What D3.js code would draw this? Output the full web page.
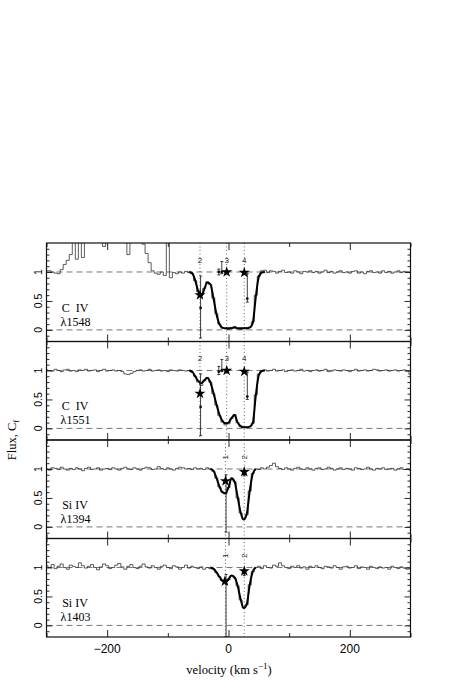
<!DOCTYPE html>
<html>
<head>
<meta charset="utf-8">
<script src="https://cdn.jsdelivr.net/npm/d3@7"></script>
<style>
  body { margin: 0; background: #fff; }
  svg { display: block; }
</style>
</head>
<body>
<svg id="chart" width="457" height="684"></svg>
<script>
// velocity grid of the spectra (km/s, 5 km/s bins)
var velocity = d3.range(-300, 301, 5);

// observed normalized flux, one array per line (121 bins each)
var fluxC1548 = [
  1.02, 1.02, 1.00, 0.98, 0.97, 1.04, 1.13, 1.20, 1.30, 1.60,
  1.22, 1.60, 1.25, 1.60, 1.60, 1.60, 1.60, 1.60, 1.60, 1.44,
  1.60, 1.60, 1.60, 1.60, 1.60, 1.60, 1.60, 1.30, 1.60, 1.60,
  1.60, 1.60, 1.48, 1.32, 1.16, 1.02, 0.98, 0.96, 1.00, 0.94,
  1.60, 0.90, 0.99, 0.97, 1.00, 0.98, 1.01, 0.99, 0.97, 0.85,
  0.66, 0.60, 0.72, 0.83, 0.78, 0.55, 0.28, 0.10, 0.03, 0.02,
  0.01, 0.04, 0.06, 0.02, 0.01, 0.03, 0.04, 0.05, 0.14, 0.60,
  0.93, 1.02, 1.03, 0.99, 1.02, 1.01, 0.98, 1.01, 1.03, 0.99,
  1.00, 0.98, 1.02, 1.00, 0.97, 1.01, 1.00, 1.02, 0.99, 1.01,
  0.98, 1.00, 1.03, 0.99, 1.01, 0.98, 1.00, 1.02, 0.99, 1.00,
  0.98, 1.01, 1.02, 0.98, 1.00, 0.97, 1.01, 1.02, 0.99, 1.00,
  0.98, 1.02, 0.99, 1.01, 0.98, 1.00, 1.02, 0.99, 1.01, 1.00,
  0.99
];
var fluxC1551 = [
  1.01, 1.00, 0.99, 1.02, 1.00, 0.98, 1.01, 1.02, 0.99, 1.00,
  0.98, 1.01, 1.00, 1.02, 0.99, 1.00, 1.01, 0.98, 1.00, 1.02,
  0.99, 1.00, 1.01, 0.99, 1.00, 0.98, 0.94, 0.93, 0.95, 0.98,
  1.00, 1.01, 0.99, 1.00, 1.02, 0.99, 1.00, 1.01, 0.99, 1.00,
  0.98, 1.01, 1.00, 0.99, 1.01, 1.00, 0.99, 1.00, 0.97, 0.90,
  0.80, 0.74, 0.82, 0.88, 0.80, 0.60, 0.40, 0.22, 0.11, 0.06,
  0.08, 0.17, 0.24, 0.10, 0.03, 0.02, 0.02, 0.03, 0.09, 0.58,
  0.94, 1.00, 1.01, 0.99, 1.00, 1.02, 0.99, 1.00, 1.01, 0.98,
  1.00, 1.01, 0.99, 1.00, 1.02, 0.99, 1.00, 0.98, 1.00, 1.01,
  0.99, 1.00, 1.02, 0.98, 0.99, 1.01, 1.00, 0.99, 1.01, 1.00,
  0.98, 1.00, 1.02, 0.99, 1.00, 1.01, 0.99, 1.00, 1.02, 1.01,
  0.99, 1.00, 1.01, 0.99, 1.00, 1.01, 0.99, 1.00, 1.01, 0.99,
  0.93
];
var fluxSi1394 = [
  1.00, 0.98, 1.02, 1.01, 0.99, 1.03, 1.00, 0.98, 1.01, 0.99,
  1.02, 1.00, 0.97, 1.01, 1.03, 0.99, 1.00, 1.02, 0.98, 1.00,
  1.01, 0.99, 1.02, 1.00, 0.98, 1.01, 1.03, 1.00, 0.99, 1.02,
  1.00, 0.98, 1.01, 1.03, 1.02, 0.99, 1.00, 1.04, 1.01, 0.99,
  1.02, 1.00, 0.98, 1.01, 1.03, 1.02, 1.00, 1.01, 0.99, 1.02,
  1.00, 1.01, 0.99, 1.02, 1.00, 0.96, 0.84, 0.69, 0.60, 0.57,
  0.68, 0.84, 0.78, 0.50, 0.24, 0.13, 0.21, 0.62, 0.92, 1.00,
  0.99, 1.02, 1.00, 1.03, 1.06, 1.10, 1.04, 1.01, 0.99, 1.02,
  1.00, 0.98, 1.01, 1.03, 1.00, 0.99, 1.02, 1.00, 0.98, 1.01,
  1.02, 0.99, 1.00, 1.03, 1.01, 0.98, 1.00, 1.02, 0.99, 1.01,
  1.00, 0.98, 1.02, 1.01, 0.99, 1.00, 1.03, 1.00, 0.98, 1.01,
  1.00, 1.02, 0.99, 1.00, 1.01, 0.98, 1.00, 1.02, 0.99, 1.00,
  0.98
];
var fluxSi1403 = [
  1.03, 1.00, 1.05, 0.98, 1.02, 1.06, 1.00, 0.97, 1.04, 1.02,
  1.00, 1.08, 1.03, 0.99, 1.02, 1.05, 1.00, 0.96, 1.01, 1.06,
  1.03, 0.98, 1.00, 1.04, 1.07, 1.01, 0.97, 1.02, 1.05, 1.00,
  0.98, 1.02, 1.06, 1.01, 0.99, 1.03, 1.00, 0.97, 1.02, 1.04,
  1.00, 0.98, 1.03, 1.01, 0.97, 1.00, 1.04, 0.99, 1.02, 1.00,
  0.98, 1.01, 0.97, 1.00, 0.98, 0.97, 0.91, 0.84, 0.77, 0.74,
  0.79, 0.86, 0.82, 0.68, 0.44, 0.30, 0.36, 0.70, 0.93, 1.00,
  1.02, 0.98, 1.03, 1.00, 0.99, 1.04, 1.02, 1.08, 1.03, 1.00,
  0.98, 1.02, 1.00, 1.03, 0.99, 1.01, 0.97, 1.02, 1.00, 1.03,
  1.00, 0.98, 1.02, 1.01, 0.99, 1.03, 1.00, 0.97, 1.01, 1.02,
  0.99, 1.00, 1.03, 0.98, 1.01, 1.00, 0.97, 1.02, 1.00, 0.98,
  1.01, 0.99, 1.00, 0.97, 1.02, 1.00, 0.98, 1.01, 0.99, 0.97,
  0.98
];

// model fits (thick line), only over the absorption
var modelVelC4 = [-65, -60, -55, -50, -45, -40, -35, -30, -25, -20, -15, -10, -5,
                  0, 5, 10, 15, 20, 25, 30, 35, 40, 45, 50, 55, 60];
var modelC1548 = [1.00, 0.98, 0.86, 0.67, 0.58, 0.70, 0.82, 0.79, 0.56, 0.28, 0.10, 0.04, 0.03,
                  0.03, 0.03, 0.04, 0.03, 0.03, 0.03, 0.03, 0.04, 0.12, 0.57, 0.92, 0.99, 1.00];
var modelC1551 = [1.00, 0.98, 0.90, 0.82, 0.78, 0.83, 0.87, 0.80, 0.62, 0.42, 0.24, 0.13, 0.09,
                  0.10, 0.18, 0.23, 0.10, 0.04, 0.02, 0.02, 0.03, 0.09, 0.57, 0.92, 0.99, 1.00];
var modelVelSi4 = [-30, -25, -20, -15, -10, -5, 0, 5, 10, 15, 20, 25, 30, 35, 40, 45];
var modelSi1394 = [1.00, 0.97, 0.85, 0.70, 0.60, 0.58, 0.68, 0.84, 0.78, 0.52, 0.25, 0.13, 0.22, 0.62, 0.92, 1.00];
var modelSi1403 = [1.00, 0.98, 0.92, 0.84, 0.77, 0.75, 0.80, 0.86, 0.83, 0.69, 0.45, 0.30, 0.36, 0.70, 0.93, 1.00];

// velocity components (dotted lines + labels)
var compVelC4 = [-47, -3, 26];
var compLabC4 = ["2", "3", "4"];
var compVelSi4 = [-5, 26];
var compLabSi4 = ["1", "2"];

// covering factor (stars)
var starsC1548 = [[-47, 0.60], [-3, 1.00], [26, 0.99]];
var starsC1551 = [[-47, 0.60], [-3, 1.00], [26, 0.98]];
var starsSi1394 = [[-5, 0.79], [26, 0.95]];
var starsSi1403 = [[-6, 0.76], [26, 0.94]];

// measurements with error bars: [velocity, value, low, high]
var errC1548 = [[-46, 0.38, -0.14, 0.93], [-16, 1.00, 0.95, 1.05], [-11, 1.00, 0.97, 1.18], [31, 0.54, 0.48, 0.97]];
var errC1551 = [[-46, 0.37, -0.12, 0.94], [-16, 0.98, 0.93, 1.07], [-11, 1.00, 0.98, 1.19], [31, 0.55, 0.50, 0.97]];
var errSi1394 = [[-4, 0.78, -0.09, 0.90], [26, 0.91, 0.88, 0.94]];
var errSi1403 = [[-4, 0.72, -0.19, 0.88], [26, 0.90, 0.86, 0.94]];

var ion = ["C\u00a0\u00a0IV", "C\u00a0\u00a0IV", "Si IV", "Si IV"];
var wave = ["\u03bb1548", "\u03bb1551", "\u03bb1394", "\u03bb1403"];

var yMajor = [0, 0.5, 1];
var yMinor = [-0.1, 0.1, 0.2, 0.3, 0.4, 0.6, 0.7, 0.8, 0.9, 1.1, 1.2, 1.3, 1.4];
var yLabels = ["0", "0.5", "1"];
var xMajor = [-200, 0, 200];
var xMinor = [-300, -100, 100, 300];
var xLabels = ["\u2212200", "0", "200"];

var panels = [
  { flux: fluxC1548, modelV: modelVelC4, model: modelC1548, comps: compVelC4, labs: compLabC4, stars: starsC1548, errs: errC1548, rotLab: false },
  { flux: fluxC1551, modelV: modelVelC4, model: modelC1551, comps: compVelC4, labs: compLabC4, stars: starsC1551, errs: errC1551, rotLab: false },
  { flux: fluxSi1394, modelV: modelVelSi4, model: modelSi1394, comps: compVelSi4, labs: compLabSi4, stars: starsSi1394, errs: errSi1394, rotLab: true },
  { flux: fluxSi1403, modelV: modelVelSi4, model: modelSi1403, comps: compVelSi4, labs: compLabSi4, stars: starsSi1403, errs: errSi1403, rotLab: true }
];

var svg = d3.select("#chart");
var left = 46.5, right = 410.5, top0 = 243, ph = 98.5;

var x = d3.scaleLinear().domain([-300, 300]).range([left, right]);
var y = d3.scaleLinear().domain([-0.2, 1.5]).range([ph, 0]);

svg.append("defs").append("clipPath").attr("id", "pclip")
  .append("rect").attr("x", left).attr("y", 0).attr("width", right - left).attr("height", ph);

var dataLine = d3.line().x(function(d) { return x(d[0]); }).y(function(d) { return y(d[1]); }).curve(d3.curveStep);
var modelLine = d3.line().x(function(d) { return x(d[0]); }).y(function(d) { return y(d[1]); }).curve(d3.curveMonotoneX);
var star = d3.symbol().type(d3.symbolStar).size(38);

panels.forEach(function(p, i) {
  var g = svg.append("g").attr("transform", "translate(0," + (top0 + i * ph) + ")");
  var inner = g.append("g").attr("clip-path", "url(#pclip)");

  // reference levels
  [0, 1].forEach(function(lv) {
    inner.append("line")
      .attr("x1", left).attr("x2", right).attr("y1", y(lv)).attr("y2", y(lv))
      .attr("stroke", "#777").attr("stroke-width", 1).attr("stroke-dasharray", "6,4");
  });

  // components
  p.comps.forEach(function(v, k) {
    inner.append("line")
      .attr("x1", x(v)).attr("x2", x(v)).attr("y1", 0).attr("y2", ph)
      .attr("stroke", "#555").attr("stroke-width", 0.9).attr("stroke-dasharray", "1,2.5");
    var t = g.append("text")
      .attr("font-family", "Liberation Sans, Arial, sans-serif").attr("font-size", 8)
      .attr("fill", "#222")
      .attr("text-anchor", "middle").text(p.labs[k]);
    if (p.rotLab) {
      t.attr("transform", "translate(" + (x(v) + 3) + "," + y(1.2) + ") rotate(-90)");
    } else {
      t.attr("x", x(v)).attr("y", y(1.16));
    }
  });

  // spectrum
  var pts = velocity.map(function(v, k) { return [v, p.flux[k]]; });
  inner.append("path").attr("d", dataLine(pts))
    .attr("fill", "none").attr("stroke", "#333").attr("stroke-width", 0.8);

  // model fit
  var mpts = p.modelV.map(function(v, k) { return [v, p.model[k]]; });
  inner.append("path").attr("d", modelLine(mpts))
    .attr("fill", "none").attr("stroke", "#000").attr("stroke-width", 2);

  // error bars
  p.errs.forEach(function(e) {
    var lo = Math.max(e[2], -0.2);
    g.append("line")
      .attr("x1", x(e[0])).attr("x2", x(e[0])).attr("y1", y(lo)).attr("y2", y(e[3]))
      .attr("stroke", "#111").attr("stroke-width", 0.8);
    [lo, e[3]].forEach(function(c) {
      g.append("line")
        .attr("x1", x(e[0]) - 1.5).attr("x2", x(e[0]) + 1.5).attr("y1", y(c)).attr("y2", y(c))
        .attr("stroke", "#111").attr("stroke-width", 0.8);
    });
    g.append("circle").attr("cx", x(e[0])).attr("cy", y(e[1])).attr("r", 1.4).attr("fill", "#111");
  });

  // covering factors
  g.selectAll(".star").data(p.stars).enter().append("path")
    .attr("d", star)
    .attr("transform", function(d) { return "translate(" + x(d[0]) + "," + y(d[1]) + ")"; })
    .attr("fill", "#000");

  // axes (ticks pointing inwards)
  var ax = [
    { a: d3.axisLeft(y).tickValues(yMajor).tickSize(-6), t: "translate(" + left + ",0)" },
    { a: d3.axisLeft(y).tickValues(yMinor).tickSize(-3), t: "translate(" + left + ",0)" },
    { a: d3.axisRight(y).tickValues(yMajor).tickSize(-6), t: "translate(" + right + ",0)" },
    { a: d3.axisRight(y).tickValues(yMinor).tickSize(-3), t: "translate(" + right + ",0)" },
    { a: d3.axisTop(x).tickValues(xMajor).tickSize(-7), t: "translate(0,0)" },
    { a: d3.axisTop(x).tickValues(xMinor).tickSize(-4), t: "translate(0,0)" },
    { a: d3.axisBottom(x).tickValues(xMajor).tickSize(-7), t: "translate(0," + ph + ")" },
    { a: d3.axisBottom(x).tickValues(xMinor).tickSize(-4), t: "translate(0," + ph + ")" }
  ];
  ax.forEach(function(o) {
    var ag = g.append("g").attr("transform", o.t).call(o.a.tickFormat(""));
    ag.select(".domain").remove();
    ag.selectAll("line").attr("stroke", "#111").attr("stroke-width", 0.9);
  });

  g.append("rect").attr("x", left).attr("y", 0).attr("width", right - left).attr("height", ph)
    .attr("fill", "none").attr("stroke", "#111").attr("stroke-width", 1.2);

  // y tick labels (rotated)
  yMajor.forEach(function(v, k) {
    g.append("text")
      .attr("transform", "translate(42," + y(v) + ") rotate(-90)")
      .attr("text-anchor", "middle")
      .attr("font-family", "Liberation Sans, Arial, sans-serif").attr("font-size", 10.5)
      .text(yLabels[k]);
  });

  // line identification
  g.append("text").attr("x", 75).attr("y", 68.5)
    .attr("text-anchor", "middle").attr("font-family", "Liberation Serif, Times, serif").attr("font-size", 12)
    .text(ion[i]);
  g.append("text").attr("x", 75.5).attr("y", 82.5)
    .attr("text-anchor", "middle").attr("font-family", "Liberation Serif, Times, serif").attr("font-size", 12)
    .text(wave[i]);
});

// x tick labels
var bottom = top0 + 4 * ph;
xMajor.forEach(function(v, k) {
  svg.append("text").attr("x", x(v)).attr("y", bottom + 15.5)
    .attr("text-anchor", "middle")
    .attr("font-family", "Liberation Sans, Arial, sans-serif").attr("font-size", 12)
    .text(xLabels[k]);
});

// axis titles
var xt = svg.append("text").attr("x", 229).attr("y", 674)
  .attr("text-anchor", "middle").attr("font-family", "Liberation Serif, Times, serif").attr("font-size", 12.5);
xt.append("tspan").text("velocity (km s");
xt.append("tspan").attr("dy", -5).attr("font-size", 9).text("\u22121");
xt.append("tspan").attr("dy", 5).text(")");

var yt = svg.append("text")
  .attr("transform", "translate(16," + (top0 + 2 * ph) + ") rotate(-90)")
  .attr("text-anchor", "middle").attr("font-family", "Liberation Serif, Times, serif").attr("font-size", 12.5);
yt.append("tspan").text("Flux, C");
yt.append("tspan").attr("dy", 3).attr("font-size", 9).text("f");
</script>
</body>
</html>
